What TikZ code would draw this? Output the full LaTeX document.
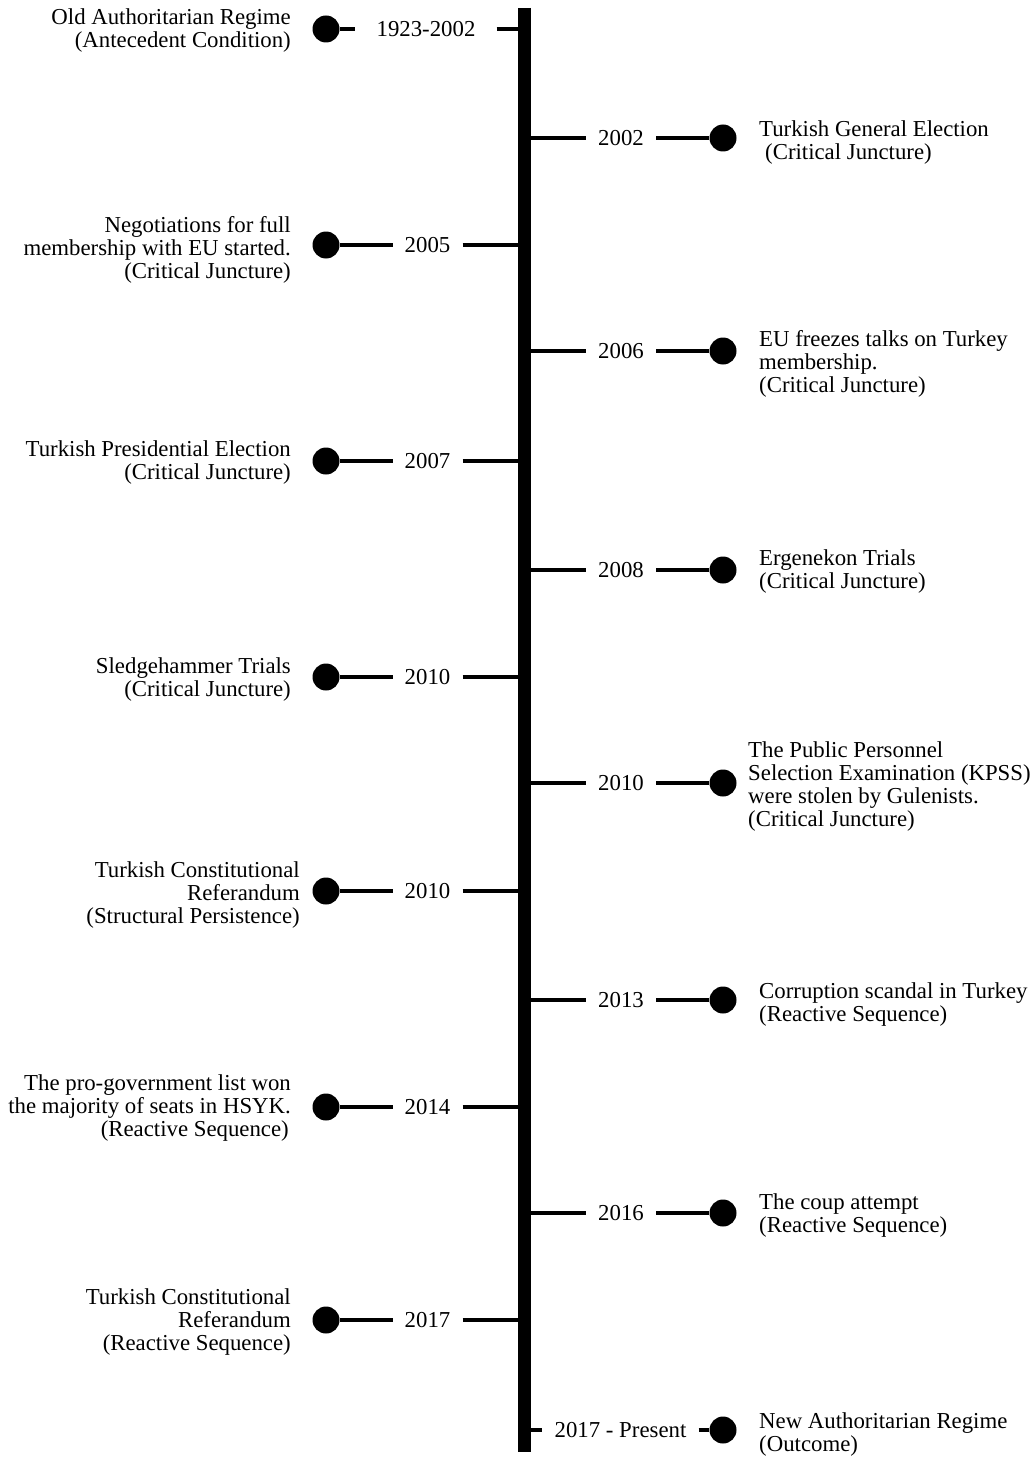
\documentclass[tikz,border=0pt]{standalone}
\usepackage{fontspec}
\setmainfont{Liberation Serif}
\begin{document}
\begin{tikzpicture}[x=1pt,y=-1pt,
  txtfont/.style={font=\fontsize{22.8}{23}\selectfont},
  dot/.style={circle,fill=black,inner sep=0pt,minimum size=27pt},
  yr/.style={txtfont,inner xsep=12pt,inner ysep=0pt},
  ltxt/.style={txtfont,anchor=east,align=right,inner sep=0pt,yshift=-2pt},
  rtxt/.style={txtfont,anchor=west,align=left,inner sep=0pt,yshift=-2pt},
  conn/.style={line width=3.5pt},
  bar/.style={line width=13pt}]
\useasboundingbox (0,0) rectangle (1035,1458);
% main bar
\coordinate (bartop) at (524.5,8);
\coordinate (barbot) at (524.5,1452);
\draw[bar] (bartop) -- (barbot);

% ---------- left events ----------
\node[dot] (ld1) at (326,29) {};
\node[yr,inner xsep=21pt] (ly1) at (426,29) {1923-2002};
\coordinate (lb1) at (524,29);
\node[ltxt] (lt1) at (291,29) {Old Authoritarian Regime\\(Antecedent Condition)};

\node[dot] (ld2) at (326,245) {};
\node[yr] (ly2) at (427.5,245) {2005};
\coordinate (lb2) at (524,245);
\node[ltxt] (lt2) at (291,248) {Negotiations for full\\membership with EU started.\\(Critical Juncture)};

\node[dot] (ld3) at (326,461) {};
\node[yr] (ly3) at (427.5,461) {2007};
\coordinate (lb3) at (524,461);
\node[ltxt] (lt3) at (291,461) {Turkish Presidential Election\\(Critical Juncture)};

\node[dot] (ld4) at (326,677) {};
\node[yr] (ly4) at (427.5,677) {2010};
\coordinate (lb4) at (524,677);
\node[ltxt] (lt4) at (291,678) {Sledgehammer Trials\\(Critical Juncture)};

\node[dot] (ld5) at (326,891) {};
\node[yr] (ly5) at (427.5,891) {2010};
\coordinate (lb5) at (524,891);
\node[ltxt] (lt5) at (300,893) {Turkish Constitutional\\Referandum\\(Structural Persistence)};

\node[dot] (ld6) at (326,1107) {};
\node[yr] (ly6) at (427.5,1107) {2014};
\coordinate (lb6) at (524,1107);
\node[ltxt] (lt6) at (291,1106) {The pro-government list won\\the majority of seats in HSYK.\\(Reactive Sequence)\hspace*{2pt}};

\node[dot] (ld7) at (326,1320) {};
\node[yr] (ly7) at (427.5,1320) {2017};
\coordinate (lb7) at (524,1320);
\node[ltxt] (lt7) at (291,1320) {Turkish Constitutional\\Referandum\\(Reactive Sequence)};

% ---------- right events ----------
\node[dot] (rd1) at (723,138) {};
\node[yr] (ry1) at (621,138) {2002};
\coordinate (rb1) at (524,138);
\node[rtxt] (rt1) at (759,140.5) {Turkish General Election\\\hspace*{6pt}(Critical Juncture)};

\node[dot] (rd2) at (723,351) {};
\node[yr] (ry2) at (621,351) {2006};
\coordinate (rb2) at (524,351);
\node[rtxt] (rt2) at (759,362) {EU freezes talks on Turkey\\membership.\\(Critical Juncture)};

\node[dot] (rd3) at (723,570) {};
\node[yr] (ry3) at (621,570) {2008};
\coordinate (rb3) at (524,570);
\node[rtxt] (rt3) at (759,569.5) {Ergenekon Trials\\(Critical Juncture)};

\node[dot] (rd4) at (723,783) {};
\node[yr] (ry4) at (621,783) {2010};
\coordinate (rb4) at (524,783);
\node[rtxt] (rt4) at (748,784.5) {The Public Personnel\\Selection Examination (KPSS)\\were stolen by Gulenists.\\(Critical Juncture)};

\node[dot] (rd5) at (723,1000) {};
\node[yr] (ry5) at (621,1000) {2013};
\coordinate (rb5) at (524,1000);
\node[rtxt] (rt5) at (759,1002.5) {Corruption scandal in Turkey\\(Reactive Sequence)};

\node[dot] (rd6) at (723,1213) {};
\node[yr] (ry6) at (621,1213) {2016};
\coordinate (rb6) at (524,1213);
\node[rtxt] (rt6) at (759,1214) {The coup attempt\\(Reactive Sequence)};

\node[dot] (rd7) at (723,1430) {};
\node[yr] (ry7) at (620.5,1430) {2017 - Present};
\coordinate (rb7) at (524,1430);
\node[rtxt] (rt7) at (759,1432.5) {New Authoritarian Regime\\(Outcome)};

% ---------- connectors ----------
\foreach \i in {1,...,7}{
  \draw[conn] (ld\i) -- (ly\i);
  \draw[conn] (ly\i) -- (lb\i);
  \draw[conn] (rb\i) -- (ry\i);
  \draw[conn] (ry\i) -- (rd\i);
}
\end{tikzpicture}
\end{document}
